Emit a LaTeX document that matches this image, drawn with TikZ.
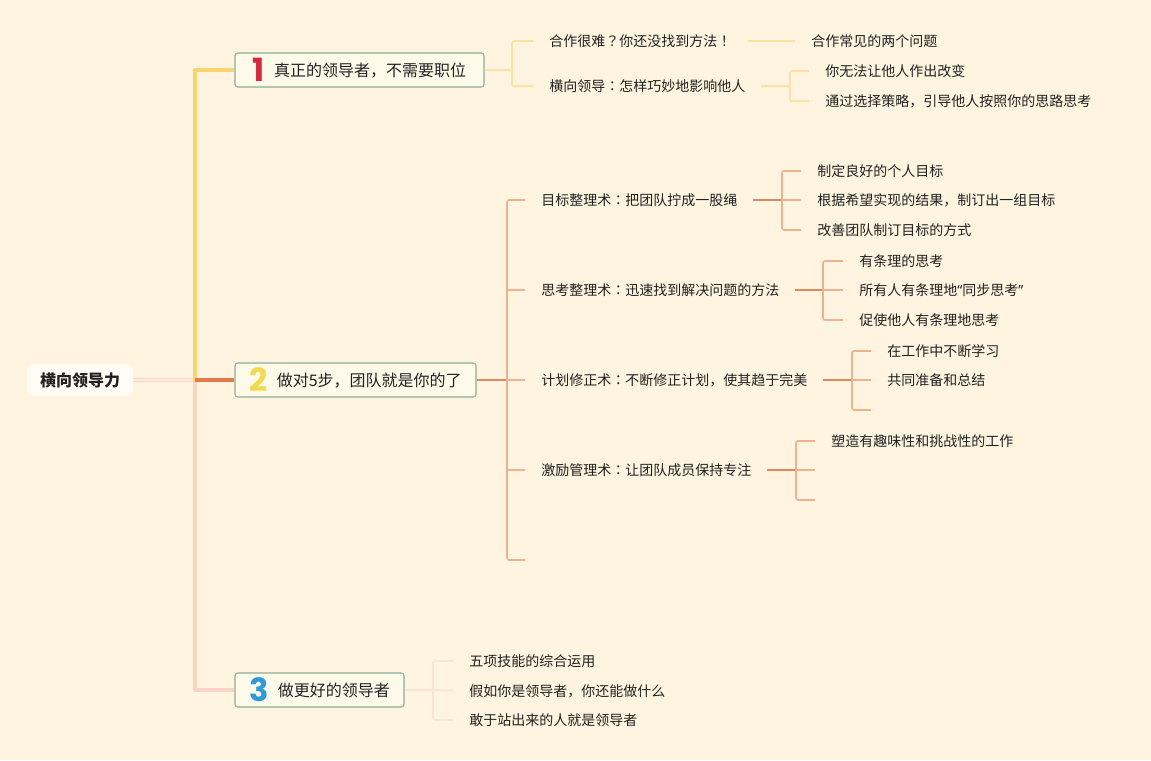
\documentclass[tikz,border=0pt]{standalone}
\usepackage{fontspec}
\setmainfont{Noto Sans CJK SC}
\newfontfamily\numfont{Poppins}
\newfontfamily\punct{Noto Sans CJK TC}
\newfontfamily\latinq{Noto Sans}
\definecolor{bg}{HTML}{FEF4DF}
\definecolor{ymain}{HTML}{FCD46F}
\definecolor{ysub}{HTML}{FBE2A2}
\definecolor{omain}{HTML}{E37A4E}
\definecolor{osub}{HTML}{E0875F}
\definecolor{obr}{HTML}{EDB391}
\definecolor{pmain}{HTML}{F9D4C4}
\definecolor{plight}{HTML}{FDECE2}
\definecolor{psub}{HTML}{FBE3D6}
\definecolor{boxline}{HTML}{8AAE97}
\definecolor{boxfill}{HTML}{FEFAEA}
\definecolor{rootfill}{HTML}{FFFCF3}
\definecolor{numa}{HTML}{D7283A}
\definecolor{numb}{HTML}{F2DA4D}
\definecolor{numc}{HTML}{2A9BDB}
\definecolor{txt}{HTML}{222222}
\tikzset{
  rootbox/.style={fill=rootfill, rounded corners=5pt, minimum width=79.5pt, minimum height=24pt, inner sep=0pt, text=txt, font=\fontsize{12pt}{14pt}\selectfont\bfseries},
  branchbox/.style={draw=boxline, line width=0.8pt, fill=boxfill, rounded corners=2pt, minimum height=25.5pt, inner sep=0pt, text=txt, font=\fontsize{12pt}{14pt}\selectfont},
  leaf/.style={anchor=west, inner sep=0pt, text=txt, font=\fontsize{10.5pt}{12pt}\selectfont},
  ymainline/.style={draw=ymain, line width=3pt, line join=round},
  ysubline/.style={draw=ysub, line width=1.2pt, rounded corners=1.5pt},
  omainline/.style={draw=omain, line width=3pt},
  osubline/.style={draw=osub, line width=1.4pt},
  obrline/.style={draw=obr, line width=1.2pt, rounded corners=1.5pt},
  pmainline/.style={draw=pmain, line width=3pt, line join=round},
  psubline/.style={draw=psub, line width=1.2pt, rounded corners=1.5pt},
  arm/.style={shorten >=12pt},
}
\newcommand{\numtag}[2]{\raisebox{-3.8pt}{\numfont\bfseries\fontsize{24pt}{24pt}\selectfont\color{#1}#2}\hspace{7pt}}
\newcommand{\pq}[1]{{\punct #1}}
\begin{document}
\begin{tikzpicture}[x=0.75pt, y=-0.75pt]
\fill[bg] (0,0) rectangle (1151,760);
\useasboundingbox (0,0) rectangle (1151,760);

% nodes
\node[rootbox] (root) at (80,380) {横向领导力};
\node[branchbox, minimum width=186.75pt] (b1) at (359.5,70) {\numtag{numa}{1}真正的领导者，不需要职位};
\node[branchbox, minimum width=180.75pt] (b2) at (355.5,380) {\numtag{numb}{2}做对5步，团队就是你的了};
\node[branchbox, minimum width=126.75pt] (b3) at (319.5,690) {\numtag{numc}{3}做更好的领导者};

\node[leaf] (c11) at (549,41) {合作很难\pq{？}你还没找到方法\pq{！}};
\node[leaf] (c12) at (549,86) {横向领导\pq{：}怎样巧妙地影响他人};
\node[leaf] (c111) at (811,41) {合作常见的两个问题};
\node[leaf] (c121) at (825,71) {你无法让他人作出改变};
\node[leaf] (c122) at (825,101) {通过选择策略，引导他人按照你的思路思考};

\node[leaf] (c21) at (541,200) {目标整理术\pq{：}把团队拧成一股绳};
\node[leaf] (c22) at (541,290) {思考整理术\pq{：}迅速找到解决问题的方法};
\node[leaf] (c23) at (541,380) {计划修正术\pq{：}不断修正计划，使其趋于完美};
\node[leaf] (c24) at (541,470) {激励管理术\pq{：}让团队成员保持专注};
\coordinate (e25) at (525,560);

\node[leaf] (c211) at (817,171) {制定良好的个人目标};
\node[leaf] (c212) at (817,200) {根据希望实现的结果，制订出一组目标};
\node[leaf] (c213) at (817,230) {改善团队制订目标的方式};
\node[leaf] (c221) at (859,261) {有条理的思考};
\node[leaf] (c222) at (859,290) {所有人有条理地{\latinq “}同步思考{\latinq ”}};
\node[leaf] (c223) at (859,320) {促使他人有条理地思考};
\node[leaf] (c231) at (887,351) {在工作中不断学习};
\node[leaf] (c232) at (887,380) {共同准备和总结};
\coordinate (e233) at (871,410);
\node[leaf] (c241) at (831,441) {塑造有趣味性和挑战性的工作};
\coordinate (e242) at (815,470);
\coordinate (e243) at (815,500);

\node[leaf] (c31) at (469,661) {五项技能的综合运用};
\node[leaf] (c32) at (469,691) {假如你是领导者，你还能做什么};
\node[leaf] (c33) at (469,720) {敢于站出来的人就是领导者};

% junctions
\coordinate (t) at (195,380);
\coordinate (j1) at (512,70);
\coordinate (j12) at (790,86);
\coordinate (j2) at (507,380);
\coordinate (j21) at (782,200);
\coordinate (j22) at (823,290);
\coordinate (j23) at (852,380);
\coordinate (j24) at (796,470);
\coordinate (j3) at (433,690);

% main branches
\draw[pmainline] (root.east) -- (t);
\draw[draw=plight, line width=0.9pt] (root.east) -- (t);
\draw[pmainline] (t) |- (b3.west);
\draw[ymainline] ([yshift=-1.5pt]t) |- (b1.west);
\draw[omainline] (t) -- (b2.west);

% branch 1
\draw[ysubline] (b1.east) -- (j1);
\draw[ysubline, arm] (j1) |- (c11.west);
\draw[ysubline, arm] (j1) |- (c12.west);
\draw[ysubline, arm] ([xshift=12pt]c11.east) -- (c111.west);
\draw[ysubline] ([xshift=11.25pt]c12.east) -- (j12);
\draw[ysubline, arm] (j12) |- (c121.west);
\draw[ysubline, arm] (j12) |- (c122.west);

% branch 2
\draw[osubline] (b2.east) -- (j2);
\draw[obrline, arm] (j2) |- (c21.west);
\draw[obrline, arm] (j2) |- (c22.west);
\draw[obrline, arm] (j2) -- (c23.west);
\draw[obrline, arm] (j2) |- (c24.west);
\draw[obrline] (j2) |- (e25);

\draw[osubline] ([xshift=11.25pt]c21.east) -- (j21);
\draw[obrline, arm] (j21) |- (c211.west);
\draw[obrline, arm] (j21) -- (c212.west);
\draw[obrline, arm] (j21) |- (c213.west);

\draw[osubline] ([xshift=11.25pt]c22.east) -- (j22);
\draw[obrline, arm] (j22) |- (c221.west);
\draw[obrline, arm] (j22) -- (c222.west);
\draw[obrline, arm] (j22) |- (c223.west);

\draw[osubline] ([xshift=11.25pt]c23.east) -- (j23);
\draw[obrline, arm] (j23) |- (c231.west);
\draw[obrline, arm] (j23) -- (c232.west);
\draw[obrline] (j23) |- (e233);

\draw[osubline] ([xshift=11.25pt]c24.east) -- (j24);
\draw[obrline, arm] (j24) |- (c241.west);
\draw[obrline] (j24) -- (e242);
\draw[obrline] (j24) |- (e243);

% branch 3
\draw[psubline] (b3.east) -- (j3);
\draw[psubline, arm] (j3) |- (c31.west);
\draw[psubline, arm] (j3) -- (c32.west);
\draw[psubline, arm] (j3) |- (c33.west);
\end{tikzpicture}
\end{document}
